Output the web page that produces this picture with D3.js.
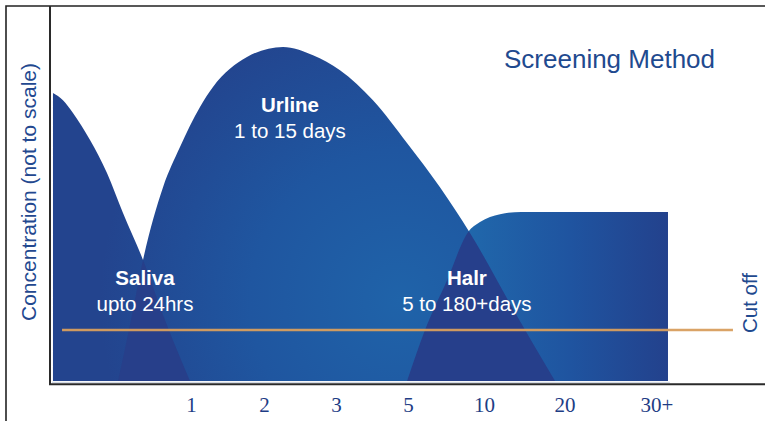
<!DOCTYPE html>
<html>
<head>
<meta charset="utf-8">
<script src="https://cdn.jsdelivr.net/npm/d3@7"></script>
<style>
  html, body { margin: 0; padding: 0; background: #fff; }
  svg { display: block; }
</style>
</head>
<body>
<svg id="chart" width="765" height="421"></svg>
<script>
// ---- data ----
const tickLabels = ["1", "2", "3", "5", "10", "20", "30+"];
const tickPos = [1.945, 2.952, 3.945, 4.938, 5.986, 7.097, 8.366];

const salivaX = [0.041, 0.179, 0.317, 0.552, 0.786, 1.007, 1.283, 1.586, 1.931];
const salivaY = [76.8, 74.9, 71.5, 64.3, 55.5, 44.8, 32.3, 16.3, 0];

const urineX = [0.938, 1.117, 1.283, 1.559, 1.793, 2.069, 2.248, 2.717, 3.214, 3.628, 4.0, 4.455, 4.924, 5.379, 5.793, 6.372, 6.966];
const urineY = [0, 16.3, 32.3, 51.7, 62.4, 73.1, 78.4, 86.4, 89.1, 86.9, 82.9, 74.9, 63.5, 51.7, 39.5, 19.7, 0];

const hairX = [4.924, 5.172, 5.476, 5.766, 5.931, 6.207, 6.5, 7.4, 8.524];
const hairY = [0, 13.6, 26.9, 39.7, 42.4, 44.5, 45.07, 45.07, 45.07];

const cutoffX = [0.166, 9.42];
const cutoffY = 13.6;

const labels = [
  { name: "Urline", sub: "1 to 15 days", x: 3.31, y: 71.7 },
  { name: "Saliva", sub: "upto 24hrs", x: 1.31, y: 25.6 },
  { name: "Halr", sub: "5 to 180+days", x: 5.75, y: 25.6 }
];

// ---- scales ----
const svg = d3.select("#chart");
const x = d3.scaleLinear().domain([0, 10]).range([50, 775]);
const y = d3.scaleLinear().domain([0, 100]).range([381, 6]);

const defs = svg.append("defs");
const rg = defs.append("radialGradient").attr("id", "gU")
  .attr("gradientUnits", "userSpaceOnUse")
  .attr("cx", 400).attr("cy", 300).attr("r", 300);
rg.append("stop").attr("offset", 0).attr("stop-color", "#1f63a9");
rg.append("stop").attr("offset", 0.5).attr("stop-color", "#1f56a0");
rg.append("stop").attr("offset", 1).attr("stop-color", "#23448e");

const lg = defs.append("linearGradient").attr("id", "gH")
  .attr("gradientUnits", "userSpaceOnUse")
  .attr("x1", 470).attr("y1", 0).attr("x2", 670).attr("y2", 0);
lg.append("stop").attr("offset", 0).attr("stop-color", "#2067ab");
lg.append("stop").attr("offset", 0.5).attr("stop-color", "#1f54a0");
lg.append("stop").attr("offset", 1).attr("stop-color", "#23418c");

const toPts = (xs, ys) => xs.map((v, i) => [v, ys[i]]);
const area = d3.area()
  .x(d => x(d[0])).y0(y(0)).y1(d => y(d[1]))
  .curve(d3.curveMonotoneX);

const saliva = toPts(salivaX, salivaY);
const urine = toPts(urineX, urineY);
const hair = toPts(hairX, hairY);

defs.append("clipPath").attr("id", "clipU")
  .append("path").attr("d", area(urine));

// frame
svg.append("path").attr("d", `M6,421 V6 H765`)
  .attr("fill", "none").attr("stroke", "#222").attr("stroke-width", 1.6);

// shapes
svg.append("path").attr("d", area(saliva)).attr("fill", "url(#gU)");
svg.append("path").attr("d", area(urine)).attr("fill", "url(#gU)");
svg.append("path").attr("d", area(hair)).attr("fill", "url(#gH)");
// overlaps
svg.append("path").attr("d", area(saliva)).attr("fill", "#273f8a").attr("clip-path", "url(#clipU)");
svg.append("path").attr("d", area(hair)).attr("fill", "#263f8b").attr("clip-path", "url(#clipU)");

// light bottom edge of shapes
svg.append("line").attr("x1", 52).attr("x2", x(8.55)).attr("y1", 382.3).attr("y2", 382.3)
  .attr("stroke", "#c9d0dd").attr("stroke-width", 1);

// cutoff line
svg.append("line")
  .attr("x1", x(cutoffX[0])).attr("x2", x(cutoffX[1]))
  .attr("y1", y(cutoffY)).attr("y2", y(cutoffY))
  .attr("stroke", "#d99f5e").attr("stroke-width", 2.4).attr("opacity", 0.95);

// axes
svg.append("line").attr("x1", 50).attr("x2", 50).attr("y1", 6).attr("y2", 385)
  .attr("stroke", "#2a2a2a").attr("stroke-width", 2);
svg.append("line").attr("x1", 49).attr("x2", 765).attr("y1", 384.3).attr("y2", 384.3)
  .attr("stroke", "#2a2a2a").attr("stroke-width", 2);

const xAxis = d3.axisBottom(x)
  .tickValues(tickPos)
  .tickFormat((d, i) => tickLabels[i])
  .tickSize(0).tickPadding(13);
const gx = svg.append("g").attr("transform", "translate(0,384)").call(xAxis);
gx.select(".domain").remove();
gx.selectAll("text")
  .attr("font-family", "'Liberation Serif', 'Times New Roman', serif")
  .attr("font-size", 21).attr("fill", "#1e3d85");

// labels
const sans = "'Liberation Sans', Arial, Helvetica, sans-serif";
labels.forEach(l => {
  svg.append("text").attr("x", x(l.x)).attr("y", y(l.y))
    .attr("text-anchor", "middle").attr("font-family", sans)
    .attr("font-weight", "bold").attr("font-size", 20.5).attr("fill", "#fff")
    .text(l.name);
  svg.append("text").attr("x", x(l.x)).attr("y", y(l.y) + 26)
    .attr("text-anchor", "middle").attr("font-family", sans)
    .attr("font-size", 20.5).attr("fill", "#fff")
    .text(l.sub);
});

svg.append("text").attr("x", 504).attr("y", 68)
  .attr("font-family", sans).attr("font-size", 26).attr("fill", "#1f4a8f")
  .text("Screening Method");

svg.append("text")
  .attr("transform", "translate(36,192) rotate(-90)")
  .attr("text-anchor", "middle")
  .attr("font-family", sans).attr("font-size", 21).attr("fill", "#23488f")
  .text("Concentration (not to scale)");

svg.append("text")
  .attr("transform", `translate(757,${y(cutoffY) + 3}) rotate(-90)`)
  .attr("text-anchor", "start")
  .attr("font-family", sans).attr("font-size", 20.5).attr("fill", "#1f4a8f")
  .text("Cut off");
</script>
</body>
</html>
